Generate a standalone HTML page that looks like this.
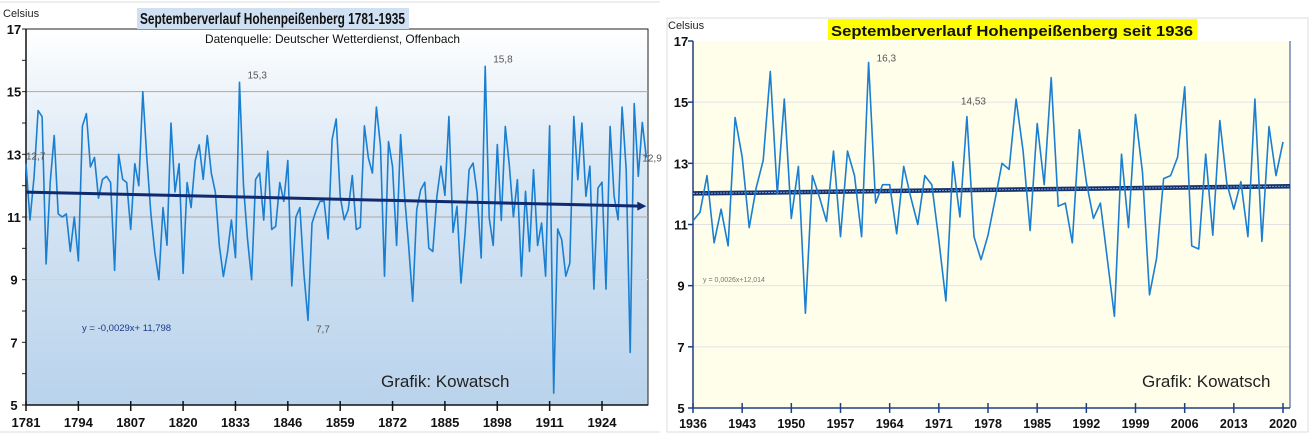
<!DOCTYPE html>
<html><head><meta charset="utf-8"><style>
html,body{margin:0;padding:0;background:#fff;}
svg{display:block;font-family:"Liberation Sans",sans-serif;}
</style></head><body>
<svg id="c" width="1311" height="436" viewBox="0 0 1311 436" xmlns="http://www.w3.org/2000/svg">
<defs>
<linearGradient id="lg" x1="0" y1="0" x2="0" y2="1">
<stop offset="0" stop-color="#ffffff"/><stop offset="0.35" stop-color="#dbe8f5"/><stop offset="1" stop-color="#b9d3ec"/>
</linearGradient>
</defs>
<line x1="0" y1="2" x2="660" y2="2" stroke="#ddd"/>
<line x1="0" y1="432" x2="660" y2="432" stroke="#ddd"/>
<rect x="667" y="18" width="641" height="414" fill="none" stroke="#ddd"/>
<g id="left"></g>
<g id="right"></g>
</svg>
<script>
const leftYears = [1781, 1935];
const leftValues = [12.7,10.9,12.3,14.4,14.2,9.5,12.1,13.6,11.1,11.0,11.1,9.9,11.0,9.6,13.9,14.3,12.6,12.9,11.6,12.2,12.3,12.1,9.3,13.0,12.2,12.1,10.6,12.7,12.0,15.0,12.9,11.1,9.85,9.0,11.3,10.1,14.0,11.8,12.7,9.2,12.1,11.3,12.8,13.3,12.2,13.6,12.4,11.8,10.1,9.1,9.85,10.9,9.7,15.3,12.0,10.3,9.0,12.2,12.4,10.9,13.1,10.6,10.7,12.1,11.5,12.8,8.8,11.0,11.3,9.2,7.7,10.8,11.2,11.5,11.5,10.3,
13.47,14.13,11.66,10.91,11.23,12.32,10.6,10.67,13.91,12.88,12.4,14.51,13.26,9.11,13.41,12.62,10.09,13.63,11.66,10.06,8.31,11.23,11.87,12.11,10.01,9.9,11.66,12.62,11.69,14.21,10.51,11.34,8.89,10.49,12.51,12.72,11.77,9.69,15.81,10.97,10.09,13.31,10.89,13.89,12.62,11.0,12.19,9.11,11.82,9.9,12.51,10.09,10.81,9.11,13.91,5.38,10.62,10.28,9.11,9.53,14.21,12.19,14.0,11.66,12.62,8.7,11.93,12.11,8.7,13.89,11.66,10.91,14.51,12.51,6.68,14.62,12.3,14.02,12.9];
const leftTicks = [1781,1794,1807,1820,1833,1846,1859,1872,1885,1898,1911,1924];
const leftTrend = [-0.0029, 11.798];
const leftLabels = [[1781,12.7,"12,7"],[1834,15.3,"15,3"],[1851,7.7,"7,7"],[1895,15.8,"15,8"],[1935,12.9,"12,9"]];

const rightYears = [1936, 2020];
const rightValues = [11.12,11.4,12.6,10.4,11.5,10.3,14.5,13.2,10.9,12.2,13.1,16.0,12.0,15.1,11.2,12.9,8.1,12.6,11.9,11.1,13.4,10.6,13.4,12.6,10.6,16.3,11.7,12.3,12.3,10.7,12.9,11.9,11.0,12.6,12.3,10.5,8.5,13.05,11.25,14.53,10.6,9.85,10.65,11.8,13.0,12.8,15.1,13.4,10.8,14.3,12.3,15.8,11.6,11.7,10.4,14.1,12.4,11.2,11.7,9.85,8.0,13.3,10.9,14.6,12.7,8.7,9.9,12.5,12.6,13.2,15.5,10.3,10.2,13.3,10.65,14.4,12.35,11.5,12.4,10.6,15.1,10.45,14.2,12.6,13.7];
const rightTicks = [1936,1943,1950,1957,1964,1971,1978,1985,1992,1999,2006,2013,2020];
const rightTrend = [0.0026, 12.014];
const rightLabels = [[1961,16.3,"16,3"],[1975,14.53,"14,53"]];
const yTicks = [5,7,9,11,13,15,17];

const NS="http://www.w3.org/2000/svg";
function mk(parent,tag,attrs,text){const e=document.createElementNS(NS,tag);for(const k in attrs)e.setAttribute(k,attrs[k]);if(text!==undefined)e.textContent=text;parent.appendChild(e);return e;}

// LEFT
(function(){
const g=document.getElementById('left');
const x0=26,x1=648,y0=29,y1=405;
const X=yr=>26+(yr-1781)*4.028;
const Y=v=>405-(v-5)*(376/12);
let r=mk(g,'rect',{x:x0,y:y0,width:x1-x0,height:y1-y0,fill:'url(#lg)',stroke:'#222','stroke-width':1});


[9,11,13,15].forEach(v=>{const l=mk(g,'line',{x1:x0,x2:x1,y1:Y(v),y2:Y(v),stroke:v==9?'#c8d4e0':'#a9a9a9','stroke-width':1});

});
for(let v=5;v<=17;v++){const t=mk(g,'line',{x1:x0-4,x2:x0,y1:Y(v),y2:Y(v),stroke:'#222'});

}
yTicks.forEach(v=>{const t=mk(g,'text',{x:14,y:Y(v)+5,'text-anchor':'middle','font-size':13,'font-weight':'bold',fill:'#111'},String(v));

});
mk(g,'line',{x1:x0,x2:x0,y1:y0,y2:y1,stroke:'#111','stroke-width':1.5});
mk(g,'line',{x1:x0,x2:x1,y1:y1,y2:y1,stroke:'#111','stroke-width':1.5});
leftTicks.forEach(yr=>{mk(g,'line',{x1:X(yr),x2:X(yr),y1:y1-4,y2:y1+6,stroke:'#111','stroke-width':1.5});
const t=mk(g,'text',{x:X(yr),y:427,'text-anchor':'middle','font-size':13,'font-weight':'bold',fill:'#111'},String(yr));

});
const pts=leftValues.map((v,i)=>X(leftYears[0]+i).toFixed(1)+','+Y(v).toFixed(1)).join(' ');
const pl=mk(g,'polyline',{points:pts,fill:'none',stroke:'#1a7fd0','stroke-width':1.6,'stroke-linejoin':'round'});


const n=leftValues.length;
const ta=leftTrend[0]*1+leftTrend[1], tb=leftTrend[0]*n+leftTrend[1];
const tl=mk(g,'line',{x1:X(leftYears[0]),y1:Y(ta),x2:X(leftYears[0]+n-1)-6,y2:Y(tb),stroke:'#0f2a6e','stroke-width':3});


const ex=X(leftYears[0]+n-1),ey=Y(tb);
mk(g,'polygon',{points:`${ex},${ey} ${ex-9},${ey-4.5} ${ex-9},${ey+4.5}`,fill:'#0f2a6e'});
leftLabels.forEach(([yr,v,s])=>{const t=mk(g,'text',{x:X(yr)+(yr==1781?0:yr==1935?-4:8),y:Y(v)+(yr==1851?12:yr==1935?4:-4),'font-size':10,fill:'#555'},s);

});
const tb2=mk(g,'rect',{x:137,y:8,width:272,height:21,fill:'#cfe0f3'});


const ti=mk(g,'text',{x:140,y:24,'font-size':16,'font-weight':'bold',fill:'#111',textLength:265,lengthAdjust:'spacingAndGlyphs'},'Septemberverlauf Hohenpeißenberg 1781-1935');


const su=mk(g,'text',{x:205,y:43,'font-size':12,fill:'#111',textLength:255,lengthAdjust:'spacingAndGlyphs'},'Datenquelle: Deutscher Wetterdienst, Offenbach');


const ce=mk(g,'text',{x:3,y:17,'font-size':11,fill:'#222'},'Celsius');


const eq=mk(g,'text',{x:82,y:331,'font-size':9.5,fill:'#1b3a8a'},'y = -0,0029x+ 11,798');


const cr=mk(g,'text',{x:381,y:387,'font-size':17,fill:'#222'},'Grafik: Kowatsch');


})();

// RIGHT
(function(){
const g=document.getElementById('right');
const x0=693,x1=1290,y0=41,y1=408;
const X=yr=>693+(yr-1936)*(590/84);
const Y=v=>408-(v-5)*(367/12);
const r=mk(g,'rect',{x:x0,y:y0,width:x1-x0,height:y1-y0,fill:'#fffeeb'});


[7,9,11,13,15].forEach(v=>{const l=mk(g,'line',{x1:x0,x2:x1,y1:Y(v),y2:Y(v),stroke:'#e2e2e2'});

});
mk(g,'line',{x1:x1,x2:x1,y1:y0,y2:y1,stroke:'#2a4a8a','stroke-width':1});
mk(g,'line',{x1:x0,x2:x0,y1:y0,y2:y1,stroke:'#1f3f85','stroke-width':1.5});
mk(g,'line',{x1:x0,x2:x1,y1:y1,y2:y1,stroke:'#1f3f85','stroke-width':1.5});
yTicks.forEach(v=>{mk(g,'line',{x1:x0-5,x2:x0,y1:Y(v),y2:Y(v),stroke:'#1f3f85','stroke-width':1.5});
const t=mk(g,'text',{x:681,y:Y(v)+5,'text-anchor':'middle','font-size':13,'font-weight':'bold',fill:'#111'},String(v));

});
rightTicks.forEach(yr=>{mk(g,'line',{x1:X(yr),x2:X(yr),y1:y1-5,y2:y1+5,stroke:'#1f3f85','stroke-width':1.5});
const t=mk(g,'text',{x:X(yr),y:428,'text-anchor':'middle','font-size':12.5,'font-weight':'bold',fill:'#111'},String(yr));

});
const n=rightValues.length;
const ta=rightTrend[0]*1+rightTrend[1], tb=rightTrend[0]*n+rightTrend[1];
const tl=mk(g,'line',{x1:x0,y1:Y(ta),x2:x1,y2:Y(tb+0.0026*6),stroke:'#15326e','stroke-width':4.5});


mk(g,'line',{x1:x0,y1:Y(ta),x2:x1,y2:Y(tb+0.0026*6),stroke:'#7b9ccc','stroke-width':1,'stroke-dasharray':'2,1'});
const pts=rightValues.map((v,i)=>X(rightYears[0]+i).toFixed(1)+','+Y(v).toFixed(1)).join(' ');
const pl=mk(g,'polyline',{points:pts,fill:'none',stroke:'#1a7fd0','stroke-width':1.6,'stroke-linejoin':'round'});


rightLabels.forEach(([yr,v,s])=>{const t=mk(g,'text',{x:X(yr)+(yr==1975?-6:8),y:Y(v)-(yr==1975?12:1),'font-size':10,fill:'#555'},s);

});
const tb2=mk(g,'rect',{x:828,y:19,width:369,height:21,fill:'#ffff00'});


const ti=mk(g,'text',{x:831,y:36,'font-size':15,'font-weight':'bold',fill:'#111',textLength:362,lengthAdjust:'spacingAndGlyphs'},'Septemberverlauf Hohenpeißenberg seit 1936');


const ce=mk(g,'text',{x:668,y:29,'font-size':11,fill:'#222'},'Celsius');


const eq=mk(g,'text',{x:703,y:282,'font-size':7,fill:'#777'},'y = 0,0026x+12,014');


const cr=mk(g,'text',{x:1142,y:387,'font-size':17,fill:'#222'},'Grafik: Kowatsch');


})();
</script>
</body></html>
